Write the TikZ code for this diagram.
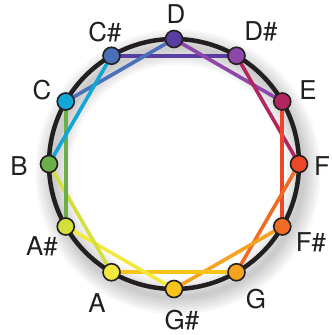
\documentclass[tikz,border=0pt]{standalone}
\usepackage{fontspec}
\setmainfont{TeX Gyre Heros}
\usepackage{xcolor}
\usetikzlibrary{positioning}
\definecolor{ink}{RGB}{35,31,32}
\definecolor{cD}{RGB}{88,62,162}
\definecolor{cDs}{RGB}{142,70,170}
\definecolor{cE}{RGB}{178,38,96}
\definecolor{cF}{RGB}{238,70,40}
\definecolor{cFs}{RGB}{240,108,34}
\definecolor{cG}{RGB}{245,162,30}
\definecolor{cGs}{RGB}{248,196,26}
\definecolor{cA}{RGB}{242,232,62}
\definecolor{cAs}{RGB}{212,222,60}
\definecolor{cB}{RGB}{108,174,72}
\definecolor{cC}{RGB}{16,166,216}
\definecolor{cCs}{RGB}{74,112,186}
\tikzset{
  ring/.style  = {draw=ink, line width=4.5bp},
  note/.style  = {circle, draw=ink, line width=1.6bp, minimum size=17bp,
                  inner sep=0pt},
  chord/.style = {line width=3.6bp},
  lbl/.style   = {text=ink, font=\fontsize{26}{30}\selectfont, inner sep=0pt}
}

\begin{document}
\begin{tikzpicture}[x=1bp, y=1bp]
  \useasboundingbox (-174,-171) rectangle (158,164);
  % soft shadow under the ring
  \foreach \w in {5,10,...,35}
    \draw[black, opacity=0.03, line width=\w bp] (4,-8) circle (125);
  \draw[ring] (0,0) circle (125);

  % notes on the ring
  \coordinate (d)  at (90:125);
  \coordinate (ds) at (60:125);
  \coordinate (e)  at (30:125);
  \coordinate (f)  at (0:125);
  \coordinate (fs) at (-30:125);
  \coordinate (g)  at (-60:125);
  \coordinate (gs) at (-90:125);
  \coordinate (a)  at (-120:125);
  \coordinate (as) at (-150:125);
  \coordinate (b)  at (180:125);
  \coordinate (c)  at (150:125);
  \coordinate (cs) at (120:125);

  % whole-tone chords
  \draw[chord, cD]  (cs) -- (ds);
  \draw[chord, cCs] (c)  -- (d);
  \draw[chord, cDs] (d)  -- (e);
  \draw[chord, cE]  (ds) -- (f);
  \draw[chord, cF]  (e)  -- (fs);
  \draw[chord, cFs] (f)  -- (g);
  \draw[chord, cG]  (fs) -- (gs);
  \draw[chord, cGs] (g)  -- (a);
  \draw[chord, cA]  (gs) -- (as);
  \draw[chord, cAs] (a)  -- (b);
  \draw[chord, cB]  (as) -- (c);
  \draw[chord, cC]  (b)  -- (cs);

  \node[note, fill=cD]  (nd)  at (d)  {};
  \node[note, fill=cDs] (nds) at (ds) {};
  \node[note, fill=cE]  (ne)  at (e)  {};
  \node[note, fill=cF]  (nf)  at (f)  {};
  \node[note, fill=cFs] (nfs) at (fs) {};
  \node[note, fill=cG]  (ng)  at (g)  {};
  \node[note, fill=cGs] (ngs) at (gs) {};
  \node[note, fill=cA]  (na)  at (a)  {};
  \node[note, fill=cAs] (nas) at (as) {};
  \node[note, fill=cB]  (nb)  at (b)  {};
  \node[note, fill=cC]  (nc)  at (c)  {};
  \node[note, fill=cCs] (ncs) at (cs) {};

  % labels
  \node[lbl] (ld)  at (2,150)     {D};
  \node[lbl] (lds) at (87,133)    {D\#};
  \node[lbl] (le)  at (134,74)    {E};
  \node[lbl, anchor=west] (lf) at (140,-2) {F};
  \node[lbl] (lfs) at (137,-78)   {F\#};
  \node[lbl] (lg)  at (82,-135)   {G};
  \node[lbl] (lgs) at (8,-156)    {G\#};
  \node[lbl] (la)  at (-77,-139)  {A};
  \node[lbl] (las) at (-132,-82)  {A\#};
  \node[lbl] (lb)  at (-155,-2)   {B};
  \node[lbl] (lc)  at (-132,74)   {C};
  \node[lbl] (lcs) at (-69,132)   {C\#};
\end{tikzpicture}
\end{document}
